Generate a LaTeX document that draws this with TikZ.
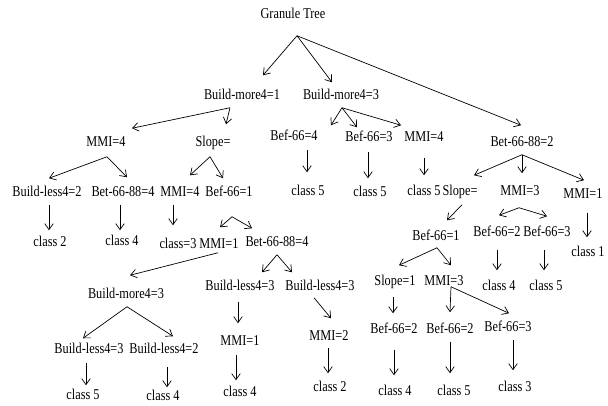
\documentclass[tikz,border=0pt]{standalone}
\usepackage{fontspec}
\setmainfont{Liberation Serif}[FakeStretch=0.82]
\usetikzlibrary{arrows.meta}

\begin{document}
\begin{tikzpicture}[
    x=1pt,y=-1pt,
    every node/.style={font=\fontsize{15}{17}\selectfont},
    lbl/.style={inner sep=1pt, outer xsep=0pt, outer ysep=4pt, text height=10.5pt, text depth=3pt},
    arr/.style={-{Straight Barb[length=6pt,width=8.5pt]}, line width=0.7pt}
]
    \useasboundingbox (0,0) rectangle (608,405);

    % level 0 and 1
    \node[lbl] (root) at (293,15) {Granule Tree};
    \node[lbl] (bmA) at (242,96) {Build-more4=1};
    \node[lbl] (bmB) at (341,96) {Build-more4=3};

    % level 2
    \node[lbl] (mmiA) at (106,143) {MMI=4};
    \node[lbl] (slA) at (213,143) {Slope=};
    \node[lbl] (befA) at (294,137) {Bef-66=4};
    \node[lbl] (befB) at (369,138) {Bef-66=3};
    \node[lbl] (mmiB) at (424,138) {MMI=4};
    \node[lbl] (betA) at (522,143) {Bet-66-88=2};

    % level 3
    \node[lbl] (blA) at (47,193) {Build-less4=2};
    \node[lbl] (betB) at (123,193) {Bet-66-88=4};
    \node[lbl] (mmiC) at (180,193) {MMI=4};
    \node[lbl] (befC) at (229,193) {Bef-66=1};
    \node[lbl] (clD) at (308,192) {class 5};
    \node[lbl] (clE) at (370,193) {class 5};
    \node[lbl] (clF) at (424,192) {class 5};
    \node[lbl] (slB) at (460,192) {Slope=};
    \node[lbl] (mmiE) at (520,192) {MMI=3};
    \node[lbl] (mmiF) at (583,195) {MMI=1};

    % level 4
    \node[lbl] (clA) at (50,243) {class 2};
    \node[lbl] (clB) at (122,242) {class 4};
    \node[lbl] (clC) at (178,245) {class=3};
    \node[lbl] (mmiD) at (219,245) {MMI=1};
    \node[lbl] (betC) at (277,243) {Bet-66-88=4};
    \node[lbl] (befD) at (436,237) {Bef-66=1};
    \node[lbl] (befE) at (497,233) {Bef-66=2};
    \node[lbl] (befF) at (547,233) {Bef-66=3};
    \node[lbl] (clG) at (588,253) {class 1};

    % level 5
    \node[lbl] (bmC) at (126,295) {Build-more4=3};
    \node[lbl] (blB) at (240,287) {Build-less4=3};
    \node[lbl] (blC) at (320,287) {Build-less4=3};
    \node[lbl] (slC) at (395,282) {Slope=1};
    \node[lbl] (mmiG) at (444,282) {MMI=3};
    \node[lbl] (clH) at (499,287) {class 4};
    \node[lbl] (clI) at (546,287) {class 5};

    % level 6
    \node[lbl] (blD) at (89,350) {Build-less4=3};
    \node[lbl] (blE) at (164,350) {Build-less4=2};
    \node[lbl] (mmiH) at (240,342) {MMI=1};
    \node[lbl] (mmiI) at (329,337) {MMI=2};
    \node[lbl] (befG) at (394,330) {Bef-66=2};
    \node[lbl] (befH) at (450,330) {Bef-66=2};
    \node[lbl] (befI) at (508,328) {Bef-66=3};

    % leaves
    \node[lbl] (clM) at (83,396) {class 5};
    \node[lbl] (clN) at (163,397) {class 4};
    \node[lbl] (clO) at (240,393) {class 4};
    \node[lbl] (clP) at (330,388) {class 2};
    \node[lbl] (clJ) at (395,392) {class 4};
    \node[lbl] (clK) at (454,392) {class 5};
    \node[lbl] (clL) at (515,388) {class 3};

    % connectors
    \draw[arr] ([shift={(4,9)}]root.south) -- ([shift={(21,-9)}]bmA.north);
    \draw[arr] ([shift={(4,9)}]root.south) -- ([shift={(-9,-2)}]bmB.north);
    \draw[arr] ([shift={(4,9)}]root.south) -- ([shift={(-1,-6)}]betA.north);

    \draw[arr] ([shift={(-12,0)}]bmA.south) -- ([shift={(26,-3)}]mmiA.north);
    \draw[arr] ([shift={(-12,0)}]bmA.south) -- ([shift={(13,-7)}]slA.north);
    \draw[arr] ([shift={(1,0)}]bmB.south) -- ([shift={(37,0)}]befA.north);
    \draw[arr] ([shift={(1,0)}]bmB.south) -- ([shift={(-12,1)}]befB.north);
    \draw[arr] ([shift={(1,0)}]bmB.south) -- ([shift={(-23,-1)}]mmiB.north);

    \draw[arr] ([shift={(1,2)}]mmiA.south) -- ([shift={(2,-3)}]blA.north);
    \draw[arr] ([shift={(1,2)}]mmiA.south) -- ([shift={(4,-4)}]betB.north);
    \draw[arr] ([shift={(-3,2)}]slA.south) -- ([shift={(10,-6)}]mmiC.north);
    \draw[arr] ([shift={(-3,2)}]slA.south) -- ([shift={(-6,-3)}]befC.north);
    \draw[arr] ([shift={(13,1)}]befA.south) -- ([shift={(-1,-8)}]clD.north);
    \draw[arr] ([shift={(-1,2)}]befB.south) -- ([shift={(-2,-3)}]clE.north);
    \draw[arr] ([shift={(0,8)}]mmiB.south) -- ([shift={(0,-5)}]clF.north);
    \draw[arr] (betA.south) -- ([shift={(14,-5)}]slB.north);
    \draw[arr] (betA.south) -- ([shift={(2,-7)}]mmiE.north);
    \draw[arr] (betA.south) -- ([shift={(1,-3)}]mmiF.north);

    \draw[arr] ([shift={(2,0)}]blA.south) -- ([shift={(-1,-1)}]clA.north);
    \draw[arr] ([shift={(-3,0)}]betB.south) -- ([shift={(-2,0)}]clB.north);
    \draw[arr] ([shift={(-7,0)}]mmiC.south) -- ([shift={(-5,-8)}]clC.north);
    \draw[arr] ([shift={(3,12)}]befC.south) -- ([shift={(1,-6)}]mmiD.north);
    \draw[arr] ([shift={(3,12)}]befC.south) -- ([shift={(-25,-3)}]betC.north);
    \draw[arr] ([shift={(2,1)}]slB.south) -- ([shift={(11,-5)}]befD.north);
    \draw[arr] ([shift={(-1,4)}]mmiE.south) -- ([shift={(2,-6)}]befE.north);
    \draw[arr] ([shift={(-1,4)}]mmiE.south) -- ([shift={(0,-5)}]befF.north);
    \draw[arr] ([shift={(4,6)}]mmiF.south) -- ([shift={(-1,-4)}]clG.north);

    \draw[arr] ([shift={(-1,-4)}]mmiD.south) -- ([shift={(4,-8)}]bmC.north);
    \draw[arr] (betC.south) -- ([shift={(22,-3)}]blB.north);
    \draw[arr] (betC.south) -- ([shift={(-28,-3)}]blC.north);
    \draw[arr] ([shift={(1,-1)}]befD.south) -- ([shift={(4,-5)}]slC.north);
    \draw[arr] ([shift={(1,-1)}]befD.south) -- ([shift={(7,-5)}]mmiG.north);
    \draw[arr] ([shift={(0,5)}]befE.south) -- ([shift={(-2,-5)}]clH.north);
    \draw[arr] ([shift={(-3,5)}]befF.south) -- ([shift={(-2,-5)}]clI.north);

    \draw[arr] ([shift={(1,0)}]bmC.south) -- ([shift={(-6,0)}]blD.north);
    \draw[arr] ([shift={(1,0)}]bmC.south) -- ([shift={(9,-2)}]blE.north);
    \draw[arr] ([shift={(-2,3)}]blB.south) -- ([shift={(-2,-7)}]mmiH.north);
    \draw[arr] ([shift={(-6,-1)}]blC.south) -- ([shift={(2,-7)}]mmiI.north);
    \draw[arr] ([shift={(-2,3)}]slC.south) -- ([shift={(-1,-5)}]befG.north);
    \draw[arr] ([shift={(7,-7)}]mmiG.south) -- ([shift={(0,-6)}]befH.north);
    \draw[arr] ([shift={(7,-7)}]mmiG.south) -- ([shift={(1,-3)}]befI.north);

    \draw[arr] ([shift={(-3,1)}]blD.south) -- ([shift={(3,1)}]clM.north);
    \draw[arr] ([shift={(3,5)}]blE.south) -- ([shift={(4,2)}]clN.north);
    \draw[arr] ([shift={(-4,1)}]mmiH.south) -- ([shift={(-4,-1)}]clO.north);
    \draw[arr] ([shift={(-1,-1)}]mmiI.south) -- ([shift={(-2,-3)}]clP.north);
    \draw[arr] ([shift={(0,8)}]befG.south) -- ([shift={(-1,-5)}]clJ.north);
    \draw[arr] (befH.south) -- ([shift={(-4,-7)}]clK.north);
    \draw[arr] ([shift={(5,0)}]befI.south) -- ([shift={(-2,-6)}]clL.north);
\end{tikzpicture}
\end{document}
